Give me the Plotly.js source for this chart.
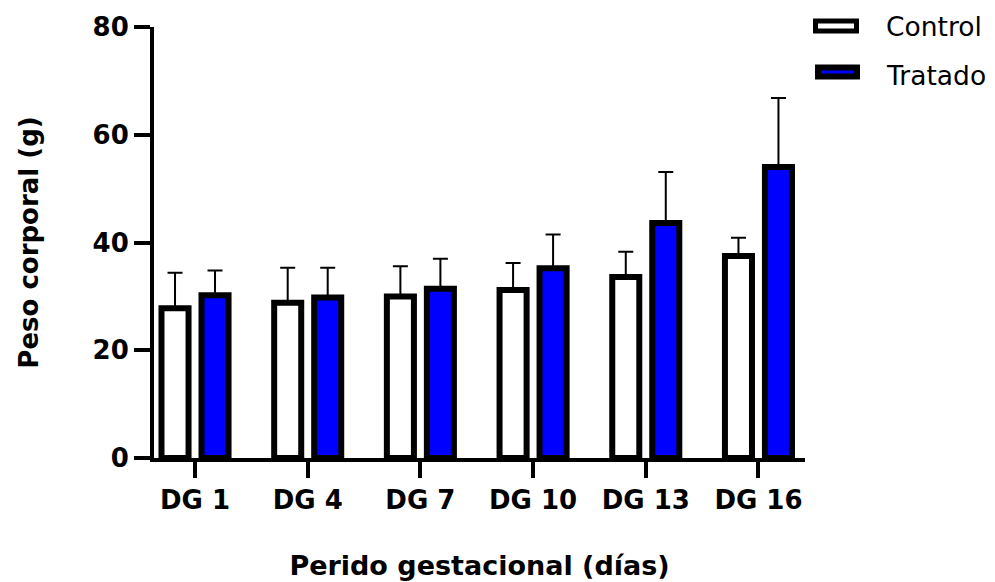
<!DOCTYPE html>
<html>
<head>
<meta charset="utf-8">
<script src="https://cdn.plot.ly/plotly-3.0.1.min.js"></script>
<style>html,body{margin:0;padding:0;background:#fff;}#chart{width:995px;height:582px;}</style>
</head>
<body>
<div id="chart"></div>
<script>
// ---- data ----
var categories = ["DG 1", "DG 4", "DG 7", "DG 10", "DG 13", "DG 16"];
var controlMean = [27.8, 28.8, 30.0, 31.2, 33.6, 37.5];
var controlSD   = [6.6, 6.5, 5.6, 5.0, 4.7, 3.4];
var tratadoMean = [30.2, 29.8, 31.4, 35.2, 43.6, 54.0];
var tratadoSD   = [4.6, 5.5, 5.6, 6.3, 9.5, 12.8];
var seriesNames = ["Control", "Tratado"];
var yTicks = [0, 20, 40, 60, 80];

// ---- layout geometry (pixels) ----
var W = 995, H = 582;
var M = {l: 154, r: 190, t: 27, b: 124};
var plotW = W - M.l - M.r, plotH = H - M.t - M.b;
function px2x(px){ return (px - M.l) / plotW; }
function px2y(py){ return (H - M.b - py) / plotH; }

var FONT = "'DejaVu Sans', Arial, sans-serif";
var zeros = controlMean.map(function(){ return 0; });

var traceControl = {
  type: "bar", name: seriesNames[0], x: categories, y: controlMean,
  width: 0.24, offset: -0.2975,
  marker: {color: "#ffffff", line: {color: "#000000", width: 6}},
  error_y: {type: "data", array: controlSD, arrayminus: zeros, symmetric: false,
            color: "#000000", thickness: 2, width: 7.5},
  showlegend: false, hoverinfo: "skip"
};
var traceTratado = {
  type: "bar", name: seriesNames[1], x: categories, y: tratadoMean,
  width: 0.24, offset: 0.0575,
  marker: {color: "#0000ff", line: {color: "#000000", width: 6}},
  error_y: {type: "data", array: tratadoSD, arrayminus: zeros, symmetric: false,
            color: "#000000", thickness: 2, width: 7.5},
  showlegend: false, hoverinfo: "skip"
};

// custom legend (shapes + text)
var legendRows = [
  {name: seriesNames[0], fill: "#ffffff", lw: 5, x0: 815.5, x1: 856.5, cy: 26, ty: 26},
  {name: seriesNames[1], fill: "#0000ff", lw: 6, x0: 818, x1: 857, cy: 72, ty: 75}
];
var shapes = [], annotations = [];
legendRows.forEach(function(r){
  var hh = 7.5 - r.lw / 2;
  shapes.push({type: "rect", xref: "paper", yref: "paper",
    x0: px2x(r.x0), x1: px2x(r.x1), y0: px2y(r.cy + hh), y1: px2y(r.cy - hh),
    fillcolor: r.fill, line: {color: "#000000", width: r.lw}, layer: "above"});
  annotations.push({xref: "paper", yref: "paper", x: px2x(884), y: px2y(r.ty),
    xanchor: "left", yanchor: "middle", showarrow: false, text: r.name,
    font: {family: FONT, size: 26.5, color: "#000000"}});
});

var layout = {
  width: W, height: H,
  margin: M,
  paper_bgcolor: "#ffffff", plot_bgcolor: "#ffffff",
  barmode: "overlay",
  showlegend: false,
  font: {family: FONT, color: "#000000"},
  xaxis: {
    type: "category", range: [-0.364, 5.413],
    showgrid: false, zeroline: false,
    showline: true, linecolor: "#000000", linewidth: 4,
    ticks: "outside", ticklen: 16, tickwidth: 4, tickcolor: "#000000",
    tickfont: {family: FONT, size: 26, weight: "bold", color: "#000000"},
    title: {text: "<b>Perido gestacional (días)</b>", standoff: 43,
            font: {family: FONT, size: 27, color: "#000000"}},
    fixedrange: true
  },
  yaxis: {
    range: [0, 80], tickvals: yTicks, ticktext: yTicks.map(String),
    showgrid: false, zeroline: false,
    showline: true, linecolor: "#000000", linewidth: 4,
    ticks: "outside", ticklen: 16, tickwidth: 4, tickcolor: "#000000",
    tickfont: {family: FONT, size: 26, weight: "bold", color: "#000000"},
    title: {text: "<b>Peso corporal (g)</b>", standoff: 48,
            font: {family: FONT, size: 26, color: "#000000"}},
    fixedrange: true
  },
  shapes: shapes,
  annotations: annotations
};

Plotly.newPlot("chart", [traceControl, traceTratado], layout, {displayModeBar: false, staticPlot: true});
</script>
</body>
</html>
